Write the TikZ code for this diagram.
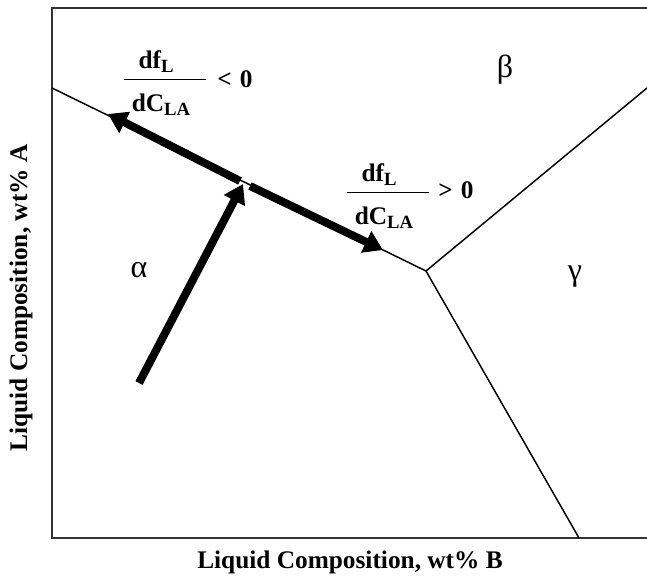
\documentclass[tikz,border=0pt]{standalone}
\usepackage{fontspec}
\setmainfont{Liberation Serif}
\usetikzlibrary{arrows.meta,positioning}

% slope of the liquid fraction
\newcommand{\lowsub}[1]{\raisebox{-0.35ex}{\fontsize{14}{16}\selectfont#1}}
\newcommand{\dfdc}{\begin{tabular}{@{\hspace{6pt}}l@{\hspace{12pt}}}%
  \hspace{5pt}df\lowsub{L}\\[1pt]\hline
  \rule{0pt}{24pt}dC\lowsub{LA}\end{tabular}}

\begin{document}
\begin{tikzpicture}[x=0.75pt,y=-0.75pt,
  frame/.style={line width=1.3pt,black!80},
  bound/.style={line width=1.1pt},
  fatarrow/.style={line width=6pt,-{Triangle[length=14pt,width=17pt]}},
  phase/.style={font=\fontsize{24}{28}\selectfont},
  lbl/.style={font=\fontsize{19}{22}\selectfont\bfseries},
  ratio/.style={lbl,inner sep=0pt}]
  \useasboundingbox (0,0) rectangle (647,577);
  \draw[frame] (647,8) -- (52,8) -- (52,538) -- (647,538);
  % phase boundaries
  \coordinate (tri) at (426,271);
  \coordinate (edgeW) at (52,88);
  \coordinate (edgeE) at (647,88);
  \coordinate (edgeS) at (579,538);
  \draw[bound] (edgeW) -- (tri) -- (edgeE);
  \draw[bound] (tri) -- (edgeS);
  % path of the liquid
  \coordinate (src) at (139,383);
  \coordinate (hit) at (243,184);
  \coordinate (hitL) at (240,181);
  \coordinate (hitR) at (250,186);
  \coordinate (upL) at (108,114);
  \coordinate (dnR) at (383,250);
  \draw[fatarrow] (src) -- (hit);
  \draw[fatarrow] (hitL) -- (upL);
  \draw[fatarrow] (hitR) -- (dnR);
  % labels
  \node[phase] (alpha) at (139,270) {α};
  \node[phase] (beta) at (505,70) {β};
  \node[phase] (gamma) at (575,277) {γ};
  \node[ratio] (fracL) at (165,84) {\dfdc};
  \node[ratio] (signL) at (235,79) {<\hspace{6pt}0};
  \node[ratio] (fracR) at (388,197) {\dfdc};
  \node[ratio] (signR) at (456,190) {>\hspace{6pt}0};
  \node[lbl,rotate=90] (ylab) at (21,298) {Liquid Composition, wt\% A};
  \node[lbl] (xlab) at (350,562) {Liquid Composition, wt\% B};
\end{tikzpicture}
\end{document}
